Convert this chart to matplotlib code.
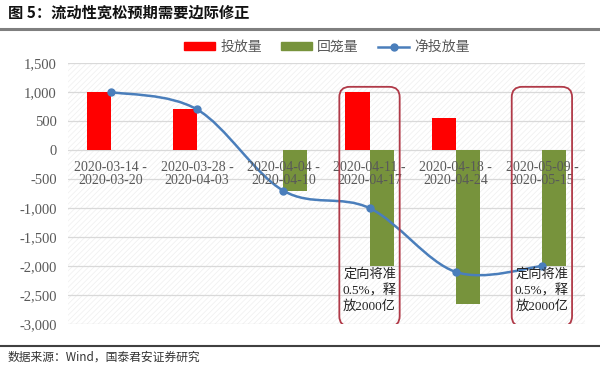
import matplotlib
matplotlib.use("Agg")
from matplotlib import pyplot as plt
from matplotlib import font_manager
from matplotlib.patches import FancyBboxPatch, Rectangle, PathPatch
from matplotlib.path import Path
from matplotlib.lines import Line2D
import numpy as np

# data
weeks = ["2020-03-14 -\n2020-03-20", "2020-03-28 -\n2020-04-03", "2020-04-04 -\n2020-04-10",
         "2020-04-11 -\n2020-04-17", "2020-04-18 -\n2020-04-24", "2020-05-09 -\n2020-05-15"]
injection = [1000, 700, 0, 1000, 560, 0]
withdrawal = [0, 0, -700, -2000, -2650, -2000]
net = [1000, 700, -700, -1000, -2100, -2000]
note_weeks = [3, 5]
note_text = "定向将准\n0.5%，释\n放2000亿"
yticks = list(range(-3000, 1501, 500))

installed = {f.name for f in font_manager.fontManager.ttflist}
serif_name = next((n for n in ["Liberation Serif", "Times New Roman", "DejaVu Serif"] if n in installed),
                  "DejaVu Serif")
SERIF = [serif_name, "Noto Sans CJK SC"]
CJK = ["Noto Sans CJK SC", "DejaVu Sans"]
GRAY = "#595959"
RED = "#FF0000"
GREEN = "#77933C"
BLUE = "#4A7EBB"

plt.rcParams["hatch.linewidth"] = 0.5

fig = plt.figure(figsize=(6, 3.73), dpi=100)
ax = fig.add_axes([0.113, 0.131, 0.862, 0.70])

x = np.arange(len(weeks))
w = 0.28
ax.bar(x - w / 2, injection, w, color=RED, zorder=3)
ax.bar(x + w / 2, withdrawal, w, color=GREEN, zorder=3)

# smoothed line (bezier through the points, like Excel's smoothed line)
pts = np.column_stack([x, net]).astype(float)
verts = [tuple(pts[0])]
codes = [Path.MOVETO]
n = len(pts)
for i in range(n - 1):
    p0 = pts[i - 1] if i > 0 else pts[i]
    p1 = pts[i]
    p2 = pts[i + 1]
    p3 = pts[i + 2] if i + 2 < n else pts[i + 1]
    c1 = p1 + (p2 - p0) / 6
    c2 = p2 - (p3 - p1) / 6
    verts += [tuple(c1), tuple(c2), tuple(p2)]
    codes += [Path.CURVE4] * 3
ax.add_patch(PathPatch(Path(verts, codes), fill=False, edgecolor=BLUE, lw=1.8, zorder=4))
ax.plot(x, net, "o", color=BLUE, ms=5, zorder=5)

ax.set_xlim(-0.5, len(weeks) - 0.5)
ax.set_ylim(-3000, 1500)
ax.set_yticks(yticks)
ax.set_yticklabels([f"{v:,}" for v in yticks], family=SERIF, fontsize=10.5, color=GRAY)
ax.set_xticks([])
ax.tick_params(axis="y", length=0, pad=8)
for s in ax.spines.values():
    s.set_visible(False)
ax.grid(axis="y", color="#D9D9D9", lw=0.9, zorder=1)
ax.add_patch(Rectangle((0, 0), 1, 1, transform=ax.transAxes, fill=False, hatch="//////",
                       edgecolor="#EFEFEF", lw=0, zorder=0))

for i, lab in enumerate(weeks):
    ax.text(i, -410, lab, ha="center", va="center", family=SERIF, fontsize=10,
            color=GRAY, linespacing=1.05, zorder=6)

# rounded boxes for the RRR cut notes
bw, bh = fig.get_size_inches() * fig.dpi
ax_w, ax_h = 0.862 * bw, 0.70 * bh
aspect = (4500 / ax_h) / (6 / ax_w)
for i in note_weeks:
    box = FancyBboxPatch((i - 0.35, -3040), 0.70, 4130,
                         boxstyle="round,pad=0,rounding_size=0.12", mutation_aspect=aspect,
                         fill=False, edgecolor="#B03A48", lw=1.3, zorder=7)
    ax.add_patch(box)
    ax.text(i, -2420, note_text, ha="center", va="center", family=SERIF, fontsize=9.5,
            color="#222222", linespacing=1.3, zorder=8)

handles = [Rectangle((0, 0), 1, 1, color=RED), Rectangle((0, 0), 1, 1, color=GREEN),
           Line2D([], [], color=BLUE, lw=1.8, marker="o", ms=5)]
fig.legend(handles, ["投放量", "回笼量", "净投放量"], loc="center", bbox_to_anchor=(0.545, 0.874),
           ncol=3, frameon=False, prop={"family": CJK, "size": 10}, labelcolor=GRAY,
           handlelength=2.2, handleheight=0.5, columnspacing=1.4, handletextpad=0.4)

fig.text(0.013, 0.966, "图 5：流动性宽松预期需要边际修正", family=CJK, fontweight="bold",
         fontsize=11, va="center", color="#111111")
fig.add_artist(Line2D([0, 1], [0.922, 0.922], transform=fig.transFigure, color="#7F7F7F", lw=2.2))
fig.add_artist(Line2D([0, 1], [0.072, 0.072], transform=fig.transFigure, color="#404040", lw=1.5))
fig.text(0.013, 0.042, "数据来源：Wind，国泰君安证券研究", family=CJK, fontsize=8.5,
         va="center", color="#333333")

fig.savefig("out.png", dpi=100)
